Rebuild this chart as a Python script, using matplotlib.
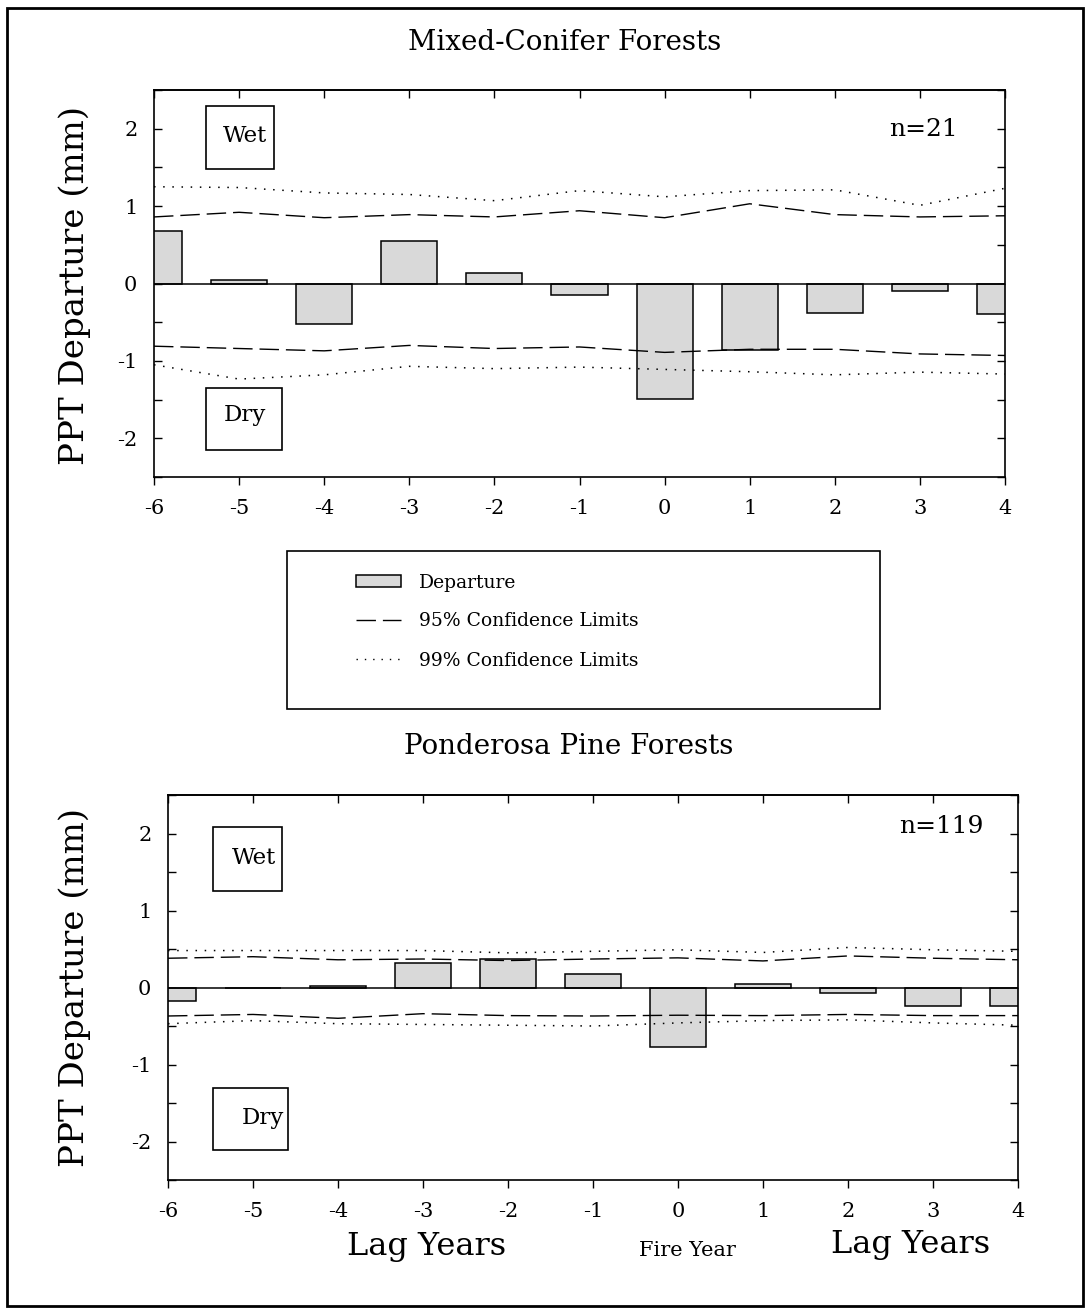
import matplotlib
matplotlib.use("Agg")
import matplotlib.pyplot as plt
from matplotlib.patches import Rectangle
from matplotlib.lines import Line2D
from matplotlib.ticker import MultipleLocator

plt.rcParams["font.family"] = ["DejaVu Serif"]
plt.rcParams["axes.unicode_minus"] = False

# lag years relative to fire year
lags = [-6, -5, -4, -3, -2, -1, 0, 1, 2, 3, 4]

# mixed-conifer forests (n=21)
mc_departure = [0.68, 0.05, -0.52, 0.55, 0.13, -0.155, -1.49, -0.86, -0.385, -0.10, -0.39]
mc_ci95_upper = [0.86, 0.92, 0.85, 0.89, 0.86, 0.94, 0.85, 1.03, 0.89, 0.86, 0.875]
mc_ci95_lower = [-0.81, -0.84, -0.87, -0.80, -0.84, -0.82, -0.89, -0.85, -0.85, -0.91, -0.93]
mc_ci99_upper = [1.25, 1.24, 1.17, 1.15, 1.07, 1.20, 1.12, 1.20, 1.21, 1.01, 1.23]
mc_ci99_lower = [-1.05, -1.235, -1.18, -1.07, -1.10, -1.08, -1.11, -1.14, -1.18, -1.145, -1.17]

# ponderosa pine forests (n=119)
pp_departure = [-0.17, -0.01, 0.02, 0.32, 0.37, 0.17, -0.775, 0.04, -0.065, -0.24, -0.24]
pp_ci95_upper = [0.38, 0.40, 0.36, 0.37, 0.35, 0.37, 0.385, 0.345, 0.41, 0.38, 0.36]
pp_ci95_lower = [-0.37, -0.35, -0.40, -0.34, -0.365, -0.37, -0.36, -0.365, -0.35, -0.365, -0.365]
pp_ci99_upper = [0.48, 0.48, 0.48, 0.48, 0.45, 0.47, 0.49, 0.455, 0.52, 0.49, 0.47]
pp_ci99_lower = [-0.47, -0.43, -0.47, -0.48, -0.49, -0.50, -0.46, -0.43, -0.42, -0.46, -0.49]

BAR_COLOR = "#d9d9d9"
DASH = (14, 5)
DOT = (1, 5)

fig = plt.figure(figsize=(10.87, 13.08), dpi=100)


def draw_panel(ax, dep, u95, l95, u99, l99, n_label, n_pos, wet_box, wet_txt, dry_box, dry_txt):
    ax.bar(lags, dep, width=0.66, color=BAR_COLOR, edgecolor="black", linewidth=1.1, zorder=2)
    ax.axhline(0, color="black", linewidth=1.1, zorder=3)
    for vals in (u95, l95):
        ax.plot(lags, vals, color="black", linewidth=1.0, dashes=DASH, zorder=4)
    for vals in (u99, l99):
        ax.plot(lags, vals, color="black", linewidth=1.1, dashes=DOT, zorder=4)

    ax.set_xlim(-6, 4)
    ax.set_ylim(-2.5, 2.5)
    ax.set_xticks(lags)
    ax.set_xticklabels([str(v) for v in lags])
    ax.set_yticks([-2, -1, 0, 1, 2])
    ax.yaxis.set_minor_locator(MultipleLocator(0.5))
    ax.tick_params(axis="x", which="both", direction="out", length=6, width=1,
                   top=False, labelsize=15, pad=10)
    ax.tick_params(axis="y", which="major", direction="in", length=6, width=1,
                   left=True, right=True, labelsize=15, pad=12)
    ax.tick_params(axis="y", which="minor", direction="in", length=6, width=1,
                   left=True, right=True)
    # inward ticks along the top edge
    top = ax.secondary_xaxis("top")
    top.set_xticks(lags)
    top.tick_params(direction="in", length=6, width=1, labeltop=False)
    top.spines["top"].set_linewidth(1.2)
    for s in ax.spines.values():
        s.set_linewidth(1.2)

    ax.text(n_pos[0], n_pos[1], n_label, transform=ax.transAxes,
            ha="right", va="center", fontsize=18)

    for (x0, y0, x1, y1), (tx, ty, label) in ((wet_box, wet_txt), (dry_box, dry_txt)):
        ax.add_patch(Rectangle((x0, y0), x1 - x0, y1 - y0, transform=ax.transAxes,
                               fill=False, edgecolor="black", linewidth=1.2, zorder=5))
        ax.text(tx, ty, label, transform=ax.transAxes, ha="center", va="center", fontsize=16.5)


ax1 = fig.add_axes([154 / 1087, 1 - 477 / 1308, 851 / 1087, 387 / 1308])
draw_panel(ax1, mc_departure, mc_ci95_upper, mc_ci95_lower, mc_ci99_upper, mc_ci99_lower,
           "n=21", (0.944, 0.899),
           (0.061, 0.796, 0.141, 0.959), (0.107, 0.881, "Wet"),
           (0.061, 0.070, 0.150, 0.230), (0.107, 0.160, "Dry"))

ax2 = fig.add_axes([168 / 1087, 1 - 1180 / 1308, 850 / 1087, 385 / 1308])
draw_panel(ax2, pp_departure, pp_ci95_upper, pp_ci95_lower, pp_ci99_upper, pp_ci99_lower,
           "n=119", (0.959, 0.917),
           (0.053, 0.751, 0.134, 0.917), (0.101, 0.836, "Wet"),
           (0.053, 0.078, 0.141, 0.239), (0.112, 0.162, "Dry"))

# panel titles and axis labels
fig.text(565 / 1087, 1 - 43 / 1308, "Mixed-Conifer Forests", ha="center", va="center", fontsize=20)
fig.text(569 / 1087, 1 - 747 / 1308, "Ponderosa Pine Forests", ha="center", va="center", fontsize=20)
fig.text(75 / 1087, 1 - 285 / 1308, "PPT Departure (mm)", rotation=90,
         ha="center", va="center", fontsize=24.5)
fig.text(75 / 1087, 1 - 987 / 1308, "PPT Departure (mm)", rotation=90,
         ha="center", va="center", fontsize=24.5)
fig.text(427 / 1087, 1 - 1246 / 1308, "Lag Years", ha="center", va="center", fontsize=23)
fig.text(687 / 1087, 1 - 1250 / 1308, "Fire Year", ha="center", va="center", fontsize=15)
fig.text(911 / 1087, 1 - 1244 / 1308, "Lag Years", ha="center", va="center", fontsize=23)

# legend between the panels
handles = [
    Rectangle((0, 0), 1, 1, facecolor=BAR_COLOR, edgecolor="black", linewidth=1.1),
    Line2D([], [], color="black", linewidth=1.0, dashes=DASH),
    Line2D([], [], color="black", linewidth=1.0, dashes=DOT),
]
labels = ["Departure", "95% Confidence Limits", "99% Confidence Limits"]
fig.legend(handles, labels, loc="upper left", bbox_to_anchor=(348 / 1087, 1 - 566 / 1308),
           frameon=False, fontsize=13.5, handlelength=2.4, handleheight=0.6,
           handletextpad=1.0, labelspacing=1.12, borderaxespad=0)
fig.add_artist(Rectangle((287 / 1087, 1 - 709 / 1308), 593 / 1087, 158 / 1308,
                         transform=fig.transFigure, fill=False, edgecolor="black", linewidth=1.2))

# outer frame
fig.add_artist(Rectangle((7 / 1087, 2 / 1308), 1076 / 1087, 1298 / 1308,
                         transform=fig.transFigure, fill=False, edgecolor="black", linewidth=2))

fig.savefig("out.png", dpi=100)
